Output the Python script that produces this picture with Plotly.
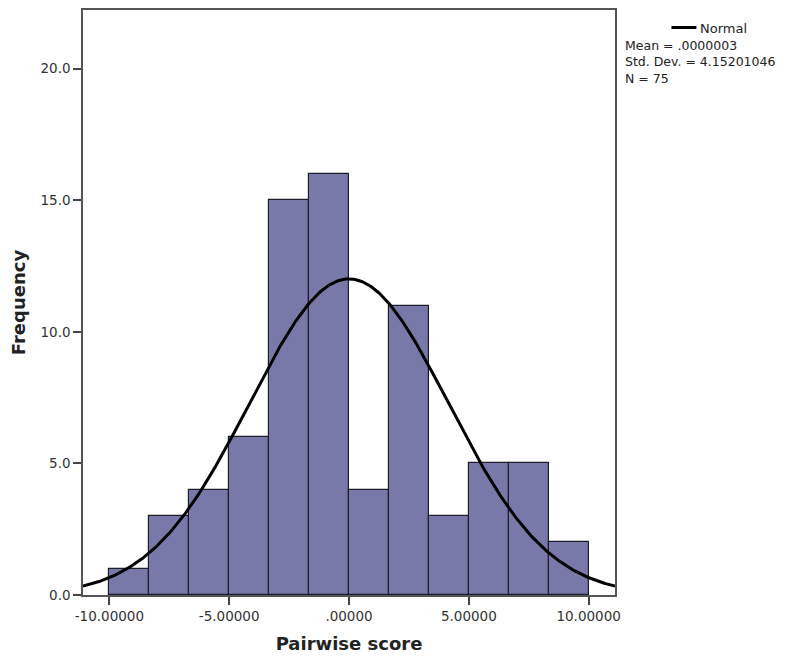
import numpy as np
import plotly.graph_objects as go

# Data
counts = [1, 3, 4, 6, 15, 16, 4, 11, 3, 5, 5, 2]
bin_start = -10.0
bin_width = 20.0 / 12
mean = 0.0000003
std_dev = 4.15201046
n_obs = 75
x_tickvals = [-10, -5, 0, 5, 10]
x_ticktext = ["-10.00000", "-5.00000", ".00000", "5.00000", "10.00000"]
y_tickvals = [0, 5, 10, 15, 20]
y_ticktext = ["0.0", "5.0", "10.0", "15.0", "20.0"]
stats_lines = ["Mean = .0000003", "Std. Dev. = 4.15201046", "N = 75"]

x_range = [-11.1, 11.1]
y_range = [0, 22.23]

centers = [bin_start + bin_width * (i + 0.5) for i in range(len(counts))]

xs = np.linspace(x_range[0], x_range[1], 400)
ys = n_obs * bin_width / (std_dev * np.sqrt(2 * np.pi)) * np.exp(-0.5 * ((xs - mean) / std_dev) ** 2)

W, H = 799, 656
L, R, T, B = 83, 183.5, 9.5, 61
pw, ph = W - L - R, H - T - B

def px(xp):
    return (xp - L) / pw

def py(yp):
    return 1 - (yp - T) / ph

fig = go.Figure()
fig.add_trace(go.Bar(
    x=centers, y=counts, width=[bin_width] * len(counts),
    marker=dict(color="#7879A8", line=dict(color="#1e1e2a", width=1.2)),
    showlegend=False, hoverinfo="skip",
))
fig.add_trace(go.Scatter(
    x=xs, y=ys, mode="lines", line=dict(color="black", width=3),
    showlegend=False, hoverinfo="skip",
))

font_family = "DejaVu Sans"
axis_common = dict(
    showline=True, linecolor="#555555", linewidth=1.5, mirror=True,
    ticks="outside", ticklen=8, tickcolor="#444444", tickwidth=1.5,
    showgrid=False, zeroline=False, automargin=False,
    tickfont=dict(family=font_family, size=13.5, color="#333333"),
)
fig.update_layout(
    width=W, height=H,
    margin=dict(l=L, r=R, t=T, b=B),
    plot_bgcolor="white", paper_bgcolor="white",
    bargap=0,
    xaxis=dict(range=x_range, tickvals=x_tickvals, ticktext=x_ticktext,
               title=dict(text="<b>Pairwise score</b>", font=dict(family=font_family, size=18, color="#222222"), standoff=14),
               **axis_common),
    yaxis=dict(range=y_range, tickvals=y_tickvals, ticktext=y_ticktext,
               title=dict(text="<b>Frequency</b>", font=dict(family=font_family, size=18, color="#222222"), standoff=10),
               **axis_common),
)

# Legend sample line
fig.add_shape(type="line", xref="paper", yref="paper",
              x0=px(672), x1=px(697), y0=py(27), y1=py(27),
              line=dict(color="black", width=3))
fig.add_annotation(xref="paper", yref="paper", x=px(699), y=py(28),
                   text="Normal", showarrow=False, xanchor="left", yanchor="middle",
                   font=dict(family=font_family, size=13, color="#222222"))
fig.add_annotation(xref="paper", yref="paper", x=px(624), y=py(35.5),
                   text="<br>".join(stats_lines), showarrow=False,
                   xanchor="left", yanchor="top", align="left",
                   font=dict(family=font_family, size=12.5, color="#222222"))

fig.write_html("out.html")
